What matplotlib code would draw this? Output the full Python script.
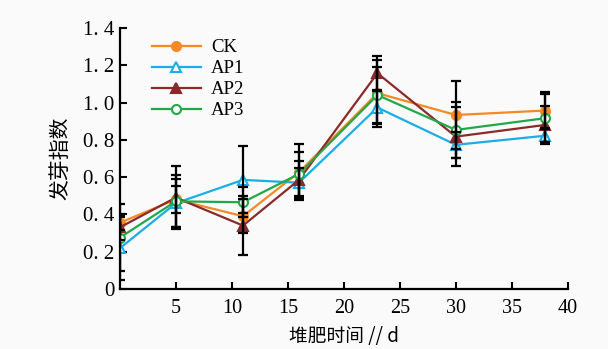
import matplotlib
matplotlib.use("Agg")
import matplotlib.pyplot as plt

days = [0, 5, 11, 16, 23, 30, 38]
series_names = ["CK", "AP1", "AP2", "AP3"]
ck = [0.355, 0.48, 0.39, 0.626, 1.05, 0.933, 0.957]
ap1 = [0.218, 0.46, 0.585, 0.57, 0.973, 0.773, 0.822]
ap2 = [0.33, 0.49, 0.34, 0.585, 1.157, 0.817, 0.88]
ap3 = [0.275, 0.47, 0.465, 0.617, 1.04, 0.853, 0.916]
ck_err = [0.04, 0.07, 0.09, 0.15, 0.18, 0.18, 0.10]
ap1_err = [0.17, 0.13, 0.18, 0.08, 0.09, 0.07, 0.04]
ap2_err = [0.07, 0.17, 0.16, 0.10, 0.09, 0.16, 0.10]
ap3_err = [0.18, 0.14, 0.08, 0.12, 0.15, 0.15, 0.13]
yticks = [0, 0.2, 0.4, 0.6, 0.8, 1.0, 1.2, 1.4]
ytick_labels = ["0", "0. 2", "0. 4", "0. 6", "0. 8", "1. 0", "1. 2", "1. 4"]
xticks = [5, 10, 15, 20, 25, 30, 35, 40]

colors = ["#F58A24", "#19AEE8", "#8B2A2A", "#22A84A"]
markers = ["o", "^", "^", "o"]
filled = [True, False, True, False]

serif = ["Liberation Serif", "DejaVu Serif"]
cjk = ["Noto Sans CJK SC", "Liberation Serif"]

fig = plt.figure(figsize=(6.08, 3.49), dpi=100, facecolor="#fafafa")
ax = fig.add_axes([0.197, 0.172, 0.737, 0.748])
ax.set_facecolor("#fafafa")

vals = [ck, ap1, ap2, ap3]
errs = [ck_err, ap1_err, ap2_err, ap3_err]
for name, v, e, c, m, f in zip(series_names, vals, errs, colors, markers, filled):
    ax.plot(days, v, color=c, lw=1.6, marker=m, markersize=6.5,
            markerfacecolor=c if f else "white", markeredgecolor=c,
            markeredgewidth=1.5, label=name, zorder=3)
for v, e in zip(vals, errs):
    ax.errorbar(days, v, yerr=e, fmt="none", ecolor="black", elinewidth=1.6,
                capsize=3.5, capthick=1.6, zorder=4)

ax.set_xlim(0, 40)
ax.set_ylim(0, 1.4)
ax.set_xticks(xticks)
ax.set_xticklabels([str(t) for t in xticks], fontfamily=serif, fontsize=14.5)
ax.set_yticks(yticks)
ax.set_yticklabels(ytick_labels, fontfamily=serif, fontsize=15)
ax.tick_params(direction="in", length=5, width=1.5, pad=7)
ax.tick_params(axis="y", pad=4)
for s in ["top", "right"]:
    ax.spines[s].set_visible(False)
for s in ["left", "bottom"]:
    ax.spines[s].set_linewidth(1.6)

ax.set_xlabel("堆肥时间 // d", fontfamily=cjk, fontsize=13.5, labelpad=6)
ax.set_ylabel("发芽指数", fontfamily=cjk, fontsize=15, labelpad=8)

leg = ax.legend(loc="upper left", bbox_to_anchor=(0.055, 0.985), frameon=False,
                prop={"family": serif, "size": 13.5}, handlelength=2.6,
                labelspacing=0.2, handletextpad=0.55, borderaxespad=0)

fig.savefig("out.png", dpi=100, facecolor=fig.get_facecolor())
